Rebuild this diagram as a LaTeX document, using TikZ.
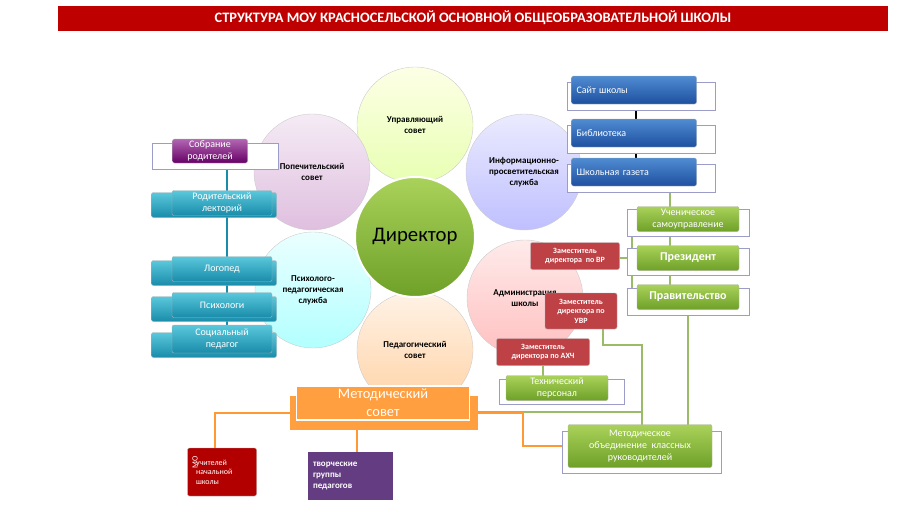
\documentclass[tikz,border=0pt]{standalone}
\usepackage{fontspec}
\setmainfont{Carlito}
\definecolor{tealtop}{RGB}{90,200,220}
\definecolor{tealbot}{RGB}{25,140,170}
\definecolor{greentop}{RGB}{170,210,90}
\definecolor{greenbot}{RGB}{110,160,40}
\definecolor{bluetop}{RGB}{80,140,210}
\definecolor{bluebot}{RGB}{30,80,160}
\definecolor{deputy}{RGB}{190,65,70}
\definecolor{creative}{RGB}{100,60,130}
\definecolor{title}{RGB}{190,0,0}
\tikzset{
  orbit/.style    = {shape=circle, draw=gray!40, minimum size=116pt,
                     align=center, font=\small\bfseries, inner sep=1pt},
  frame/.style    = {shape=rectangle, draw=blue!30!gray!60, fill=white},
  box/.style      = {shape=rectangle, rounded corners=2pt, draw=gray!60,
                     align=center, text=white, font=\normalsize, inner sep=1pt},
  tealbox/.style  = {box, top color=tealtop, bottom color=tealbot,
                     minimum width=100pt, minimum height=25pt},
  bluebox/.style  = {box, top color=bluetop, bottom color=bluebot,
                     minimum width=125pt, minimum height=28pt, text width=115pt, align=left},
  greenbox/.style = {box, top color=greentop, bottom color=greenbot,
                     minimum width=102pt, minimum height=25pt},
  redbox/.style   = {box, fill=deputy, font=\footnotesize\bfseries, inner sep=1pt},
  link/.style     = {draw, line width=1.2pt},
}
\begin{document}
\begin{tikzpicture}[x=1pt, y=-1pt]
  \useasboundingbox (0,0) rectangle (902,514);
  % title
  \node [fill=title, text=white, font=\Large\bfseries,
         minimum width=830pt, minimum height=25pt] (title) at (473,18)
        {СТРУКТУРА МОУ КРАСНОСЕЛЬСКОЙ ОСНОВНОЙ ОБЩЕОБРАЗОВАТЕЛЬНОЙ ШКОЛЫ};
  % circles
  \node [orbit, top color=green!8!yellow!10, bottom color=green!30!yellow!30] (upr) at (415,125) {Управляющий\\совет};
  \node [orbit, top color=violet!8, bottom color=violet!25] (pop) at (312,172) {Попечительский\\совет};
  \node [orbit, top color=blue!8, bottom color=blue!25] (info) at (524,172) {Информационно-\\просветительская\\служба};
  \node [orbit, top color=cyan!8, bottom color=cyan!30] (psy) at (313,290) {Психолого-\\педагогическая\\служба};
  \node [orbit, top color=red!8, bottom color=red!25] (adm) at (525,298) {Администрация\\школы};
  \node [orbit, top color=orange!10, bottom color=orange!35] (ped) at (415,350) {Педагогический\\совет};
  \node [orbit, minimum size=120pt, draw=white, line width=2pt, top color=greentop,
         bottom color=greenbot, font=\huge] (dir) at (415,237) {Директор};
  % connectors, left column
  \draw [link, tealbot] (227,163) -- (227,325);
  % left boxes
  \node [frame, minimum width=126pt, minimum height=26pt] (fsob) at (215,156) {};
  \node [box, top color=violet!60, bottom color=violet!80!black, minimum width=75pt,
         minimum height=24pt] (sob) at (210,151) {Собрание\\родителей};
  \node [tealbox, minimum width=125pt] (flek) at (214,205) {};
  \node [tealbox] (lek) at (222,203) {Родительский\\лекторий};
  \node [tealbox, minimum width=125pt] (flog) at (214,273) {};
  \node [tealbox] (log) at (222,269) {Логопед};
  \node [tealbox, minimum width=125pt] (fpsi) at (214,309) {};
  \node [tealbox] (psi) at (222,305) {Психологи};
  \node [tealbox, minimum width=125pt] (fsoc) at (214,345) {};
  \node [tealbox, minimum height=28pt] (soc) at (222,339) {Социальный\\педагог};
  % right column connectors
  \draw [link, black] (636,104) -- (636,158);
  \draw [link, greenbot!70] (670,186) -- (670,285);
  \draw [link, greenbot!70] (642,219) -- (632,219) -- (632,297) -- (642,297);
  \draw [link, greenbot!70] (620,258) -- (637,258);
  \draw [link, greenbot!70] (688,310) -- (688,425);
  \draw [link, greenbot!70] (603,329) -- (603,345) -- (642,345) -- (642,425);
  \draw [link, greenbot!70] (543,366) -- (543,376);
  \draw [link, greenbot!70] (478,412) -- (642,412);
  \draw [link, orange!80] (297,413) -- (215,413) -- (215,448);
  \draw [link, orange!80] (478,413) -- (523,413) -- (523,446) -- (568,446);
  \draw [link, orange!80] (357,430) -- (357,452);
  % blue boxes
  \foreach \name/\txt/\y in {site/Сайт школы/90, lib/Библиотека/133, gaz/Школьная газета/172}{
    \node [frame, minimum width=148pt, minimum height=28pt] (f\name) at (641,\y+6) {};
    \node [bluebox] (\name) at (634,\y) {\txt};
  }
  % green boxes
  \node [frame, minimum width=122pt, minimum height=27pt] (fuch) at (688,223) {};
  \node [greenbox] (uch) at (688,219) {Ученическое\\самоуправление};
  \node [frame, minimum width=122pt, minimum height=27pt] (fprez) at (688,262) {};
  \node [greenbox, font=\large\bfseries] (prez) at (688,258) {Президент};
  \node [frame, minimum width=122pt, minimum height=27pt] (fprav) at (688,302) {};
  \node [greenbox, font=\large\bfseries] (prav) at (688,297) {Правительство};
  % deputies
  \node [redbox, minimum width=89pt, minimum height=27pt] (vr) at (575,256) {Заместитель\\директора \ по ВР};
  \node [redbox, minimum width=72pt, minimum height=36pt] (uvr) at (581,311) {Заместитель\\директора по\\УВР};
  \node [redbox, minimum width=93pt, minimum height=27pt] (ahch) at (543,352) {Заместитель\\директора по АХЧ};
  \node [frame, minimum width=125pt, minimum height=25pt] (ftech) at (562,392) {};
  \node [greenbox] (tech) at (557,388) {Технический\\персонал};
  % methodical
  \node [shape=rectangle, fill=orange!75, minimum width=188pt, minimum height=34pt] (fmet) at (384,413) {};
  \node [shape=rectangle, draw=white, line width=1.5pt, fill=orange!75, text=white,
         font=\Large, align=center, minimum width=173pt, minimum height=34pt, inner sep=0pt] (met) at (383,403) {Методический\\совет};
  \node [frame, minimum width=159pt, minimum height=42pt] (fmok) at (642,452) {};
  \node [greenbox, minimum width=144pt, minimum height=43pt] (mok) at (640,446)
        {Методическое\\объединение \ классных\\руководителей};
  \node [box, fill=red!70!black, minimum width=69pt, minimum height=48pt, text width=52pt,
         align=left, font=\footnotesize, xshift=6pt] (mo) at (216,472) {учителей\\начальной\\школы};
  \node [rotate=90, text=white, font=\footnotesize] (molbl) at (195,462) {МО};
  \node [fill=creative, text=white, font=\small\bfseries, align=left,
         minimum width=85pt, minimum height=48pt, text width=74pt] (tvor) at (350,476)
        {творческие\\группы\\педагогов};
\end{tikzpicture}
\end{document}
